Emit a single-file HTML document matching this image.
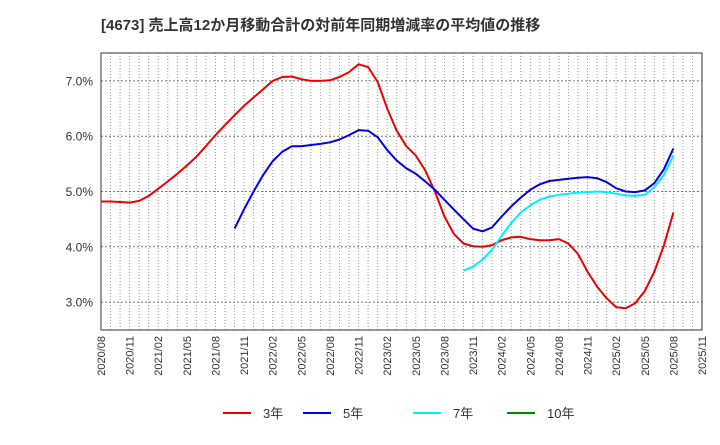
<!DOCTYPE html>
<html><head><meta charset="utf-8"><style>
body{margin:0;background:#fff;}
svg text{font-family:"Liberation Sans","Noto Sans CJK JP",sans-serif;}
</style></head><body>
<svg id="s" width="720" height="440" xmlns="http://www.w3.org/2000/svg">
<text x="101" y="30" font-size="15" font-weight="bold" fill="#333">[4673]  売上高12か月移動合計の対前年同期増減率の平均値の推移</text>
<g id="grid"></g>
<rect x="101" y="53" width="601" height="277" fill="none" stroke="#333" stroke-width="1"/>
<g id="lines"></g>
<g font-size="13" fill="#333">
<line x1="223" y1="413" x2="251" y2="413" stroke="#e00" stroke-width="2"/><text x="263" y="418">3年</text>
<line x1="303" y1="413" x2="331" y2="413" stroke="#00e" stroke-width="2"/><text x="343" y="418">5年</text>
<line x1="413" y1="413" x2="441" y2="413" stroke="#0ef" stroke-width="2"/><text x="453" y="418">7年</text>
<line x1="507" y1="413" x2="535" y2="413" stroke="#080" stroke-width="2"/><text x="547" y="418">10年</text>
</g>
</svg>
<script>
var NS="http://www.w3.org/2000/svg",g=document.getElementById('grid'),L=document.getElementById('lines');
function X(i){return 101+i*601/63;}function Y(v){return 191.5-(v-5)*55.3;}
function el(t,a,p,txt){var e=document.createElementNS(NS,t);for(var k in a)e.setAttribute(k,a[k]);if(txt)e.textContent=txt;p.appendChild(e);return e;}
for(var i=1;i<63;i++)el('line',{x1:X(i),x2:X(i),y1:53,y2:330,stroke:'#999','stroke-dasharray':'1,2','stroke-width':1},g);
[3,4,5,6,7].forEach(function(v){el('line',{x1:101,x2:702,y1:Y(v),y2:Y(v),stroke:'#777','stroke-dasharray':'2,2'},g);
el('text',{x:93,y:Y(v)+4.5,'text-anchor':'end','font-size':'12',fill:'#333'},g,v.toFixed(1)+'%');});
var m=8,y=2020;for(var i=0;i<=63;i+=3){var lab=y+'/'+(m<10?'0':'')+m;var x=X(i)+4;
el('text',{x:0,y:0,'text-anchor':'end','font-size':'11',fill:'#333',transform:'translate('+x+',336) rotate(-90)'},g,lab);m+=3;if(m>12){m-=12;y++;}}
var red=[4.82,4.82,4.81,4.80,4.83,4.92,5.05,5.18,5.32,5.47,5.63,5.82,6.02,6.20,6.38,6.55,6.70,6.85,7.00,7.07,7.08,7.03,7.00,7.00,7.01,7.07,7.16,7.30,7.25,6.98,6.50,6.10,5.82,5.65,5.38,5.00,4.55,4.23,4.06,4.01,4.00,4.03,4.12,4.17,4.18,4.14,4.12,4.12,4.14,4.06,3.87,3.55,3.28,3.07,2.91,2.89,2.98,3.20,3.55,4.02,4.62];
var blue=[4.33,4.68,5.0,5.30,5.55,5.72,5.82,5.82,5.84,5.86,5.89,5.94,6.02,6.11,6.10,5.98,5.75,5.56,5.42,5.32,5.18,5.03,4.85,4.67,4.50,4.33,4.28,4.35,4.55,4.73,4.89,5.03,5.13,5.19,5.21,5.23,5.25,5.26,5.24,5.17,5.06,5.00,4.99,5.02,5.15,5.40,5.78];
var cyan=[3.57,3.64,3.77,3.95,4.20,4.43,4.62,4.75,4.85,4.91,4.94,4.96,4.98,4.99,5.00,4.99,4.96,4.93,4.92,4.94,5.08,5.30,5.65];
function line(d,s,c){el('polyline',{points:d.map(function(v,k){return X(s+k).toFixed(1)+','+Y(v).toFixed(1)}).join(' '),fill:'none',stroke:c,'stroke-width':2,'stroke-linejoin':'round'},L);}
line(red,0,'#e00');line(blue,14,'#00e');line(cyan,38,'#0ef');
</script>
</body></html>
